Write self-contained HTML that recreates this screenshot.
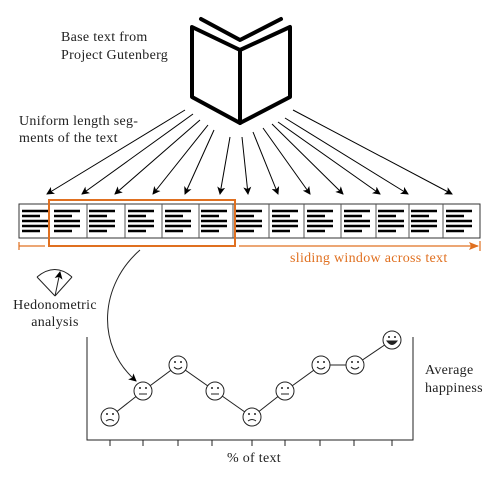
<!DOCTYPE html>
<html><head><style>
body{margin:0;background:#fff}
svg{display:block}
text{font-family:"Liberation Serif",serif;font-size:14px;letter-spacing:0.3px;fill:#222}
</style></head><body>
<svg width="500" height="500" viewBox="0 0 500 500">
<defs>
<marker id="a" markerWidth="8" markerHeight="8" refX="7" refY="4" orient="auto" markerUnits="userSpaceOnUse"><path d="M0,0 L8,4 L0,8 L2,4z" fill="#000"/></marker>
<marker id="o" markerWidth="10" markerHeight="8" refX="9" refY="4" orient="auto" markerUnits="userSpaceOnUse"><path d="M0,0 L10,4 L0,8 L2,4z" fill="#e07020"/></marker>
<g id="t" stroke="#000" stroke-width="2.5">
<line x1="0" y1="0" x2="26" y2="0"/><line x1="0" y1="5" x2="18" y2="5"/><line x1="0" y1="10" x2="26" y2="10"/><line x1="0" y1="15" x2="26" y2="15"/><line x1="0" y1="20" x2="18" y2="20"/>
</g>
</defs>
<text x="61" y="41">Base text from</text>
<text x="61" y="59">Project Gutenberg</text>
<text x="19" y="125">Uniform length seg-</text>
<text x="19" y="142">ments of the text</text>
<g fill="none" stroke="#000" stroke-width="4" stroke-linejoin="round" stroke-linecap="round">
<polyline points="201,19 240,40 281,19"/>
<polygon points="192,27 240,50 240,123 192,97"/>
<polygon points="240,50 290,27 290,97 240,123"/>
</g>
<g stroke="#000" stroke-width="1" marker-end="url(#a)">
<line x1="185" y1="110" x2="47" y2="194"/>
<line x1="193" y1="114" x2="82" y2="194"/>
<line x1="200" y1="120" x2="115" y2="194"/>
<line x1="208" y1="125" x2="153" y2="194"/>
<line x1="214" y1="130" x2="185" y2="194"/>
<line x1="230" y1="137" x2="220" y2="194"/>
<line x1="242" y1="137" x2="248" y2="194"/>
<line x1="253" y1="132" x2="278" y2="194"/>
<line x1="263" y1="128" x2="310" y2="194"/>
<line x1="272" y1="124" x2="343" y2="194"/>
<line x1="278" y1="122" x2="380" y2="194"/>
<line x1="285" y1="118" x2="408" y2="194"/>
<line x1="293" y1="110" x2="452" y2="194"/>
</g>
<rect x="19" y="204" width="461" height="34" fill="none" stroke="#333" stroke-width="1"/>
<g stroke="#555" stroke-width="1">
<line x1="49" y1="204" x2="49" y2="238"/><line x1="87" y1="204" x2="87" y2="238"/><line x1="125" y1="204" x2="125" y2="238"/><line x1="162" y1="204" x2="162" y2="238"/><line x1="199" y1="204" x2="199" y2="238"/><line x1="233" y1="204" x2="233" y2="238"/><line x1="269" y1="204" x2="269" y2="238"/><line x1="304" y1="204" x2="304" y2="238"/><line x1="341" y1="204" x2="341" y2="238"/><line x1="376" y1="204" x2="376" y2="238"/><line x1="409" y1="204" x2="409" y2="238"/><line x1="443" y1="204" x2="443" y2="238"/>
</g>
<use href="#t" x="22" y="211"/>
<use href="#t" x="54" y="211"/><use href="#t" x="89" y="211"/><use href="#t" x="128" y="211"/><use href="#t" x="165" y="211"/><use href="#t" x="201" y="211"/><use href="#t" x="236" y="211"/><use href="#t" x="272" y="211"/><use href="#t" x="307" y="211"/><use href="#t" x="344" y="211"/><use href="#t" x="378" y="211"/><use href="#t" x="411" y="211"/><use href="#t" x="446" y="211"/>
<rect x="49" y="200" width="186" height="46" fill="none" stroke="#e07020" stroke-width="2"/>
<g stroke="#e07020" stroke-width="1.2">
<line x1="19" y1="246" x2="45" y2="246"/><line x1="19" y1="242" x2="19" y2="250"/><line x1="480" y1="241" x2="480" y2="251"/>
<line x1="239" y1="246" x2="478" y2="246" marker-end="url(#o)"/>
</g>
<text x="290" y="262" style="fill:#e07020">sliding window across text</text>
<g fill="none" stroke="#222" stroke-width="1">
<path d="M37,277 Q55,262 72,277"/><line x1="55" y1="296" x2="37" y2="277"/><line x1="55" y1="296" x2="72" y2="277"/><line x1="55" y1="296" x2="60" y2="272" marker-end="url(#a)"/>
</g>
<text x="55" y="309" text-anchor="middle">Hedonometric</text>
<text x="55" y="326" text-anchor="middle">analysis</text>
<path d="M140,250 C100,285 95,345 136,381" fill="none" stroke="#222" stroke-width="1" marker-end="url(#a)"/>
<g stroke="#222" stroke-width="1" fill="none">
<polyline points="87,337 87,440 413,440 413,337"/>
<line x1="110" y1="440" x2="110" y2="446"/><line x1="143" y1="440" x2="143" y2="446"/><line x1="178" y1="440" x2="178" y2="446"/><line x1="212" y1="440" x2="212" y2="446"/><line x1="252" y1="440" x2="252" y2="446"/><line x1="285" y1="440" x2="285" y2="446"/><line x1="320" y1="440" x2="320" y2="446"/><line x1="354" y1="440" x2="354" y2="446"/><line x1="392" y1="440" x2="392" y2="446"/>
<polyline points="110,417 143,391 178,365 215,391 252,417 285,391 321,365 355,365 392,340"/>
</g>
<g stroke="#222" stroke-width="1" fill="#fff">
<circle cx="110" cy="417" r="9"/><circle cx="143" cy="391" r="9"/><circle cx="178" cy="365" r="9"/><circle cx="215" cy="391" r="9"/><circle cx="252" cy="417" r="9"/><circle cx="285" cy="391" r="9"/><circle cx="321" cy="365" r="9"/><circle cx="355" cy="365" r="9"/><circle cx="392" cy="340" r="9"/>
</g>
<g fill="#222">
<circle cx="107" cy="414" r="1"/><circle cx="113" cy="414" r="1"/><circle cx="140" cy="388" r="1"/><circle cx="146" cy="388" r="1"/><circle cx="175" cy="362" r="1"/><circle cx="181" cy="362" r="1"/><circle cx="212" cy="388" r="1"/><circle cx="218" cy="388" r="1"/><circle cx="249" cy="414" r="1"/><circle cx="255" cy="414" r="1"/><circle cx="282" cy="388" r="1"/><circle cx="288" cy="388" r="1"/><circle cx="318" cy="362" r="1"/><circle cx="324" cy="362" r="1"/><circle cx="352" cy="362" r="1"/><circle cx="358" cy="362" r="1"/><circle cx="389" cy="337" r="1"/><circle cx="395" cy="337" r="1"/>
</g>
<g fill="none" stroke="#222" stroke-width="1">
<path d="M106,421 Q110,418 114,421"/><path d="M248,421 Q252,418 256,421"/>
<line x1="139" y1="394" x2="147" y2="394"/><line x1="211" y1="394" x2="219" y2="394"/><line x1="281" y1="394" x2="289" y2="394"/>
<path d="M174,367 Q178,371 182,367"/><path d="M317,367 Q321,371 325,367"/><path d="M351,367 Q355,371 359,367"/>
<path d="M387,341 L397,341 Q392,348 387,341z" fill="#222"/>
</g>
<text x="254" y="462" text-anchor="middle">% of text</text>
<text x="425" y="374">Average</text>
<text x="425" y="392">happiness</text>
</svg>
</body></html>
